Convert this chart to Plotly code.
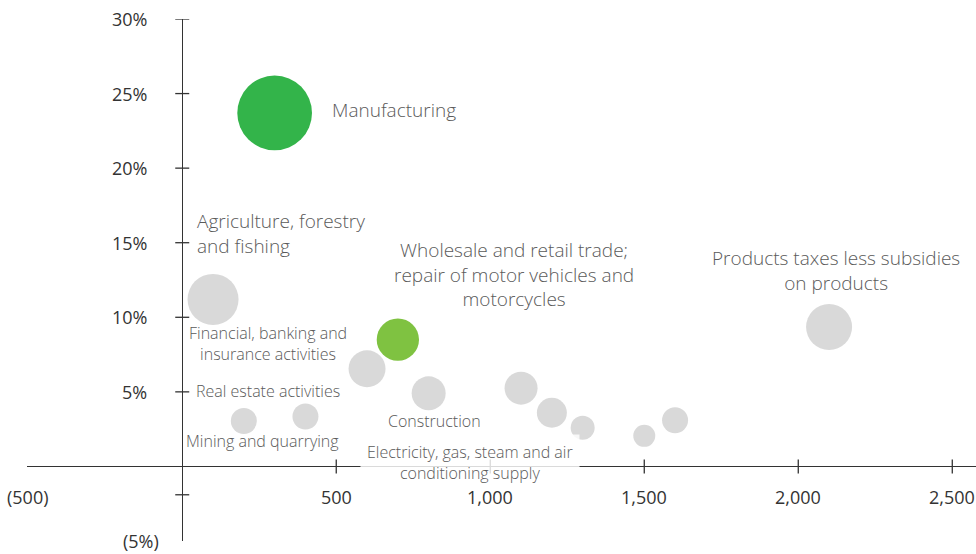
import plotly.graph_objects as go

# ---- data ----
sectors = [
    "Manufacturing",
    "Agriculture, forestry and fishing",
    "Wholesale and retail trade; repair of motor vehicles and motorcycles",
    "Products taxes less subsidies on products",
    "Financial, banking and insurance activities",
    "Real estate activities",
    "Mining and quarrying",
    "Construction",
    "Electricity, gas, steam and air conditioning supply",
    "Other sector A",
    "Other sector B",
    "Other sector C",
    "Other sector D",
]
x_vals = [300, 100, 700, 2100, 600, 400, 200, 800, 1100, 1200, 1300, 1500, 1600]
y_vals = [23.7, 11.2, 8.5, 9.35, 6.55, 3.35, 3.05, 4.9, 5.25, 3.6, 2.6, 2.05, 3.1]
weights = [74.7, 51, 42.3, 46, 37, 26, 26, 34, 33, 30, 24, 22, 26]

x_ticks = [500, 1000, 1500, 2000, 2500]
x_tick_labels = ["500", "1,000", "1,500", "2,000", "2,500"]
x_label_only = [(-500, "(500)")]
y_ticks = [5, 10, 15, 20, 25, 30, -1.9]
y_tick_labels = ["5%", "10%", "15%", "20%", "25%", "30%", ""]
y_label_only = [(-5, "(5%)")]

# ---- styles ----
GREY = "#d9d9d9"
color_map = {"Manufacturing": "#33b44a",
             "Wholesale and retail trade; repair of motor vehicles and motorcycles": "#7fc241"}
colors = [color_map.get(s, GREY) for s in sectors]

fig = go.Figure()
fig.add_trace(go.Scatter(
    x=x_vals, y=y_vals, mode="markers",
    marker=dict(size=weights, sizemode="diameter", sizeref=1, color=colors,
                line=dict(width=0), opacity=1),
    hoverinfo="skip", showlegend=False,
))

TXT = "#5a5a5a"
BIG = dict(family="Open Sans", size=19, color=TXT, weight=300)
SMALL = dict(family="Open Sans", size=16, color=TXT, weight=300)

# label annotations: (text, x, y, anchor, font, align)
labels = [
    ("Manufacturing", 480, 23.9, "left", BIG, "left"),
    ("Agriculture, forestry<br>and fishing", 42, 15.6, "left", BIG, "left"),
    ("Wholesale and retail trade;<br>repair of motor vehicles and<br>motorcycles", 1077, 12.9, "center", BIG, "center"),
    ("Products taxes less subsidies<br>on products", 2121, 13.15, "center", BIG, "center"),
    ("Financial, banking and<br>insurance activities", 280, 8.25, "center", SMALL, "center"),
    ("Real estate activities", 279, 5.06, "center", SMALL, "center"),
    ("Mining and quarrying", 261, 1.7, "center", SMALL, "center"),
    ("Construction", 819, 3.04, "center", SMALL, "center"),
]
for text, lx, ly, xa, fnt, al in labels:
    fig.add_annotation(x=lx, y=ly, text=text, showarrow=False, xanchor=xa,
                       yanchor="middle", align=al, font=fnt)

fig.add_annotation(x=934, y=0.26, text="Electricity, gas, steam and air<br>conditioning supply",
                   showarrow=False, xanchor="center", yanchor="middle", align="center",
                   font=SMALL, bgcolor="rgba(255,255,255,0.82)", borderpad=6)

AX = "#333333"
TICKFONT = dict(family="Open Sans", size=18, color="#333333")
for v, t in zip(x_ticks, x_tick_labels):
    fig.add_shape(type="line", xref="x", yref="y", x0=v, x1=v, ysizemode="pixel",
                  yanchor=0, y0=-7, y1=7, line=dict(color=AX, width=1.3), layer="below")
    fig.add_annotation(x=v, y=0, text=t, showarrow=False, yshift=-31,
                       xanchor="center", yanchor="middle", font=TICKFONT)
for v, t in x_label_only:
    fig.add_annotation(x=v, y=0, text=t, showarrow=False, yshift=-31,
                       xanchor="center", yanchor="middle", font=TICKFONT)
for v, t in zip(y_ticks, y_tick_labels):
    fig.add_shape(type="line", xref="x", yref="y", y0=v, y1=v, xsizemode="pixel",
                  xanchor=0, x0=-7, x1=7, line=dict(color=AX, width=1.3), layer="below")
    if t:
        fig.add_annotation(x=0, y=v, text=t, showarrow=False, xshift=-33,
                           xanchor="right", yanchor="middle", font=TICKFONT)
for v, t in y_label_only:
    fig.add_annotation(x=0, y=v, text=t, showarrow=False, xshift=-21,
                       xanchor="right", yanchor="middle", font=TICKFONT)

fig.update_xaxes(range=[-504, 2577], showgrid=False, showticklabels=False, ticks="",
                 zeroline=True, zerolinecolor=AX, zerolinewidth=1.3, showline=False,
                 fixedrange=True)
fig.update_yaxes(range=[-5, 30], showgrid=False, showticklabels=False, ticks="",
                 zeroline=True, zerolinecolor=AX, zerolinewidth=1.3, showline=False,
                 fixedrange=True)
fig.update_layout(
    width=976, height=554,
    margin=dict(l=27, r=0, t=19, b=13),
    paper_bgcolor="white", plot_bgcolor="white",
    hovermode=False, showlegend=False,
)
fig.write_html("out.html", config={"displayModeBar": False, "staticPlot": True},
               post_script="document.body.style.margin='0';document.body.style.overflow='hidden';")
